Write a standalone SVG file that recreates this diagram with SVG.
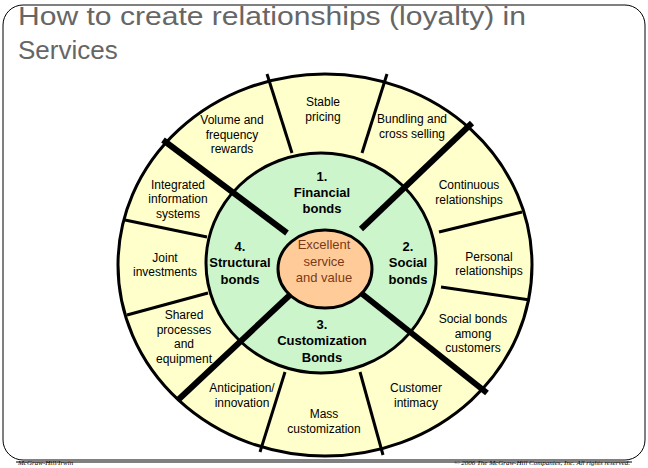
<svg xmlns="http://www.w3.org/2000/svg" width="648" height="468" viewBox="0 0 648 468">
<style>
.t{font-family:"Liberation Sans",Arial,sans-serif;font-size:12px;fill:#000;text-anchor:middle}
.b{font-family:"Liberation Sans",Arial,sans-serif;font-size:13px;font-weight:bold;fill:#000;text-anchor:middle}
.c{font-family:"Liberation Sans",Arial,sans-serif;font-size:13px;fill:#7a3a1a;text-anchor:middle}
.thin{stroke:#000;stroke-width:3;fill:none}
.thick{stroke:#000;stroke-width:6;fill:none}
.f{font-family:"Liberation Serif",serif;font-style:italic;font-size:7px;fill:#000}
</style>
<rect width="648" height="468" fill="#fff"/>
<rect x="3" y="5" width="642" height="455" rx="20" fill="none" stroke="#000" stroke-width="1"/>
<text x="18" y="25" font-family="Liberation Sans,Arial,sans-serif" font-size="26" fill="#666" textLength="508" lengthAdjust="spacingAndGlyphs">How to create relationships (loyalty) in</text>
<text x="18" y="59" font-family="Liberation Sans,Arial,sans-serif" font-size="26" fill="#666">Services</text>
<g id="outer"><ellipse cx="325" cy="265" rx="207" ry="191" fill="#ffffcc" stroke="#000" stroke-width="3"/></g>
<g id="ring"><ellipse cx="321" cy="263" rx="115" ry="110" fill="#ccf5cc" stroke="#000" stroke-width="3"/></g>
<g id="connectors">
<line class="thin" x1="292" y1="153" x2="267" y2="74"/>
<line class="thin" x1="362" y1="153" x2="387" y2="74"/>
<line class="thin" x1="439" y1="232" x2="522" y2="212"/>
<line class="thin" x1="441" y1="287" x2="530" y2="300"/>
<line class="thin" x1="360" y1="372" x2="383" y2="455"/>
<line class="thin" x1="285" y1="372" x2="260" y2="452"/>
<line class="thin" x1="208" y1="293" x2="127" y2="315"/>
<line class="thin" x1="207" y1="237" x2="125" y2="220"/>
<line class="thick" x1="163" y1="140" x2="287" y2="233"/>
<line class="thick" x1="472" y1="123" x2="361" y2="229"/>
<line class="thick" x1="487" y1="393" x2="361" y2="293"/>
<line class="thick" x1="178" y1="400" x2="292" y2="293"/>
</g>
<g id="center"><ellipse cx="325" cy="269" rx="47" ry="39" fill="#ffcc99" stroke="#000" stroke-width="3"/>
<text class="c" x="324" y="249">Excellent</text><text class="c" x="324" y="266">service</text><text class="c" x="324" y="282">and value</text></g>
<g id="b1"><text class="b" x="322" y="181">1.</text><text class="b" x="322" y="197">Financial</text><text class="b" x="322" y="213">bonds</text></g>
<g id="b2"><text class="b" x="408" y="251">2.</text><text class="b" x="408" y="267">Social</text><text class="b" x="408" y="284">bonds</text></g>
<g id="b3"><text class="b" x="322" y="329">3.</text><text class="b" x="322" y="345">Customization</text><text class="b" x="322" y="362">Bonds</text></g>
<g id="b4"><text class="b" x="240" y="251">4.</text><text class="b" x="240" y="267">Structural</text><text class="b" x="240" y="284">bonds</text></g>
<g id="n1"><text class="t" x="323" y="106">Stable</text><text class="t" x="323" y="121">pricing</text></g>
<g id="n2"><text class="t" x="412" y="123">Bundling and</text><text class="t" x="412" y="138">cross selling</text></g>
<g id="n3"><text class="t" x="469" y="189">Continuous</text><text class="t" x="469" y="204">relationships</text></g>
<g id="n4"><text class="t" x="489" y="261">Personal</text><text class="t" x="489" y="275">relationships</text></g>
<g id="n5"><text class="t" x="473" y="323">Social bonds</text><text class="t" x="473" y="338">among</text><text class="t" x="473" y="352">customers</text></g>
<g id="n6"><text class="t" x="416" y="392">Customer</text><text class="t" x="416" y="407">intimacy</text></g>
<g id="n7"><text class="t" x="324" y="418">Mass</text><text class="t" x="324" y="433">customization</text></g>
<g id="n8"><text class="t" x="242" y="392">Anticipation/</text><text class="t" x="242" y="407">innovation</text></g>
<g id="n9"><text class="t" x="184" y="319">Shared</text><text class="t" x="184" y="334">processes</text><text class="t" x="184" y="348">and</text><text class="t" x="184" y="363">equipment</text></g>
<g id="n10"><text class="t" x="165" y="262">Joint</text><text class="t" x="165" y="276">investments</text></g>
<g id="n11"><text class="t" x="178" y="189">Integrated</text><text class="t" x="178" y="203">information</text><text class="t" x="178" y="218">systems</text></g>
<g id="n12"><text class="t" x="232" y="124">Volume and</text><text class="t" x="232" y="139">frequency</text><text class="t" x="232" y="153">rewards</text></g>
<line x1="16" y1="462" x2="632" y2="462" stroke="#000" stroke-width="1"/>
<text class="f" x="18" y="465">McGraw-Hill/Irwin</text>
<text class="f" x="630" y="465" text-anchor="end">© 2006 The McGraw-Hill Companies, Inc. All rights reserved.</text>
</svg>
